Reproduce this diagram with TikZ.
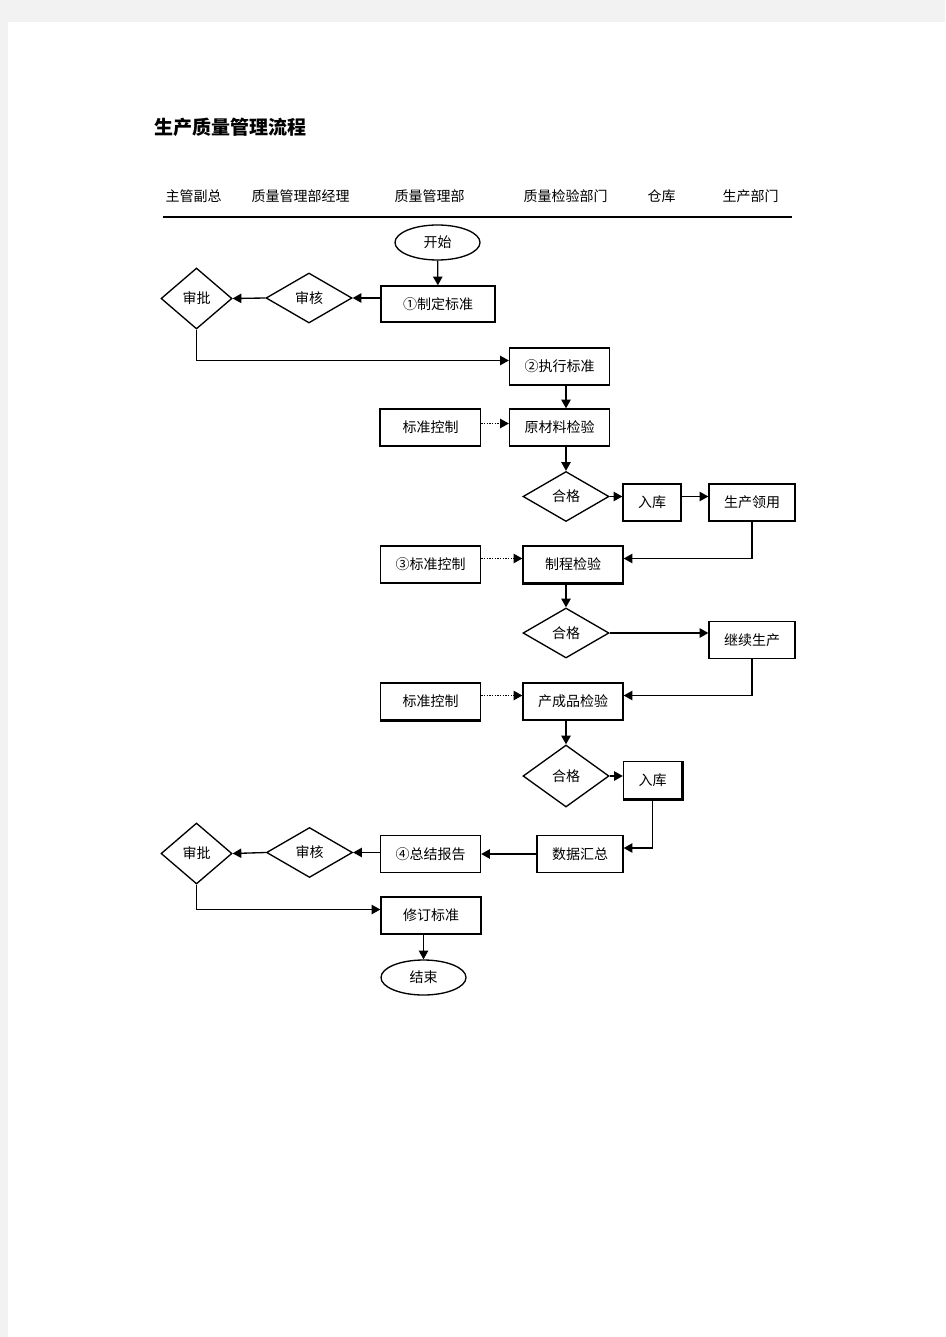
\documentclass[tikz,border=0pt]{standalone}
\usepackage{fontspec}
\setmainfont{Noto Sans CJK SC}
\usepackage{tikz}
\usetikzlibrary{arrows.meta}
\usetikzlibrary{shapes}
\definecolor{pagegray}{RGB}{242,242,242}
\tikzset{box/.style={draw,line width=1pt,minimum width=#1,minimum height=27.75pt,inner sep=0pt},
 box/.default=75pt,
 choice/.style={draw,line width=1pt,diamond,aspect=1.7,inner sep=0pt,minimum width=64.5pt,minimum height=37.5pt},
 terminal/.style={draw,line width=1pt,ellipse,minimum width=63.75pt,minimum height=26.25pt,inner sep=0pt},
 flow/.style={line width=1pt,-{Triangle[length=6.5pt,width=7pt]}},
 control/.style={flow,densely dotted},
 lane/.style={anchor=west,font=\fontsize{10.5}{12}\selectfont},
 every node/.style={font=\fontsize{10.5}{12}\selectfont},
 }

\begin{document}
\begin{tikzpicture}[x=0.75pt,y=-0.75pt]
        \useasboundingbox (0,0) rectangle (945,1337);
        \fill[pagegray] (0,0) rectangle (945,1337);
        \fill[white] (8,22) rectangle (945,1337);
        % title and lanes
        \node[anchor=west,font=\fontsize{14.25}{16}\selectfont\bfseries] (title) at (150,127) {生产质量管理流程};
        \node[lane] (lane1) at (161,196) {主管副总};
        \node[lane] (lane2) at (247,196) {质量管理部经理};
        \node[lane] (lane3) at (390,196) {质量管理部};
        \node[lane] (lane4) at (519,196) {质量检验部门};
        \node[lane] (lane5) at (643,196) {仓库};
        \node[lane] (lane6) at (718,196) {生产部门};
        \draw[line width=1pt] (163,217) -- (792,217);
        % standard
        \node[terminal] (start) at (437.5,242.5) {开始};
        \node[box=85.5pt,minimum height=27pt] (std) at (438,304) {①制定标准};
        \node[choice] (check1) at (309,298) {审核};
        \node[choice,minimum width=53.25pt,minimum height=45.75pt] (approve1) at (196.5,298.5) {审批};
        \node[box] (exec) at (559.5,366.5) {②执行标准};
        % raw material
        \node[box] (ctrl1) at (430.5,427.5) {标准控制};
        \node[box] (raw) at (559.5,427.5) {原材料检验};
        \node[choice] (pass1) at (566,496.5) {合格};
        \node[box=43.5pt] (store1) at (652,502.5) {入库};
        \node[box=64.5pt] (use) at (752,502.5) {生产领用};
        % process
        \node[box] (ctrl2) at (430.5,564.5) {③标准控制};
        \node[box] (proc) at (573,564.5) {制程检验};
        \node[choice] (pass2) at (566,633) {合格};
        \node[box=64.5pt] (cont) at (752,640) {继续生产};
        % product
        \node[box] (ctrl3) at (430.5,701.5) {标准控制};
        \node[box] (final) at (573,701.5) {产成品检验};
        \node[choice,minimum height=46.5pt] (pass3) at (566,776) {合格};
        \node[box=43.5pt] (store2) at (652.5,780) {入库};
        % report
        \node[box=64.5pt] (data) at (580,854) {数据汇总};
        \node[box] (report) at (430.5,854) {④总结报告};
        \node[choice] (check2) at (309.5,852.5) {审核};
        \node[choice,minimum width=53.25pt,minimum height=45.75pt] (approve2) at (196.5,853.5) {审批};
        \node[box] (revise) at (431,915.5) {修订标准};
        \node[terminal] (end) at (423.5,977.5) {结束};
        % thick edges
        \draw[line width=2pt] (ctrl1.south west) -- (ctrl1.north west);
        \draw[line width=2pt] (proc.south west) -- (proc.south east);
        \draw[line width=2pt] (ctrl3.south west) -- (ctrl3.south east);
        \draw[line width=2pt] (store2.south west) -- (store2.south east) -- (store2.north east);
        % connectors
        \draw[flow] (start) -- (std);
        \draw[flow] (std.west |- check1) -- (check1.east);
        \draw[flow] (check1.west) -- (approve1.east);
        \draw[flow] (approve1.south) |- ([yshift=4.5pt]exec.west);
        \draw[flow] (exec.south -| pass1) -- (raw.north -| pass1);
        \draw[control] ([yshift=3pt]ctrl1.east) -- ([yshift=3pt]raw.west);
        \draw[flow] (raw.south -| pass1) -- (pass1.north);
        \draw[flow] (pass1.east) -- (pass1.east -| store1.west);
        \draw[flow] (store1.east |- pass1) -- (use.west |- pass1);
        \draw[flow] (use.south) |- ([yshift=4.5pt]proc.east);
        \draw[control] ([yshift=4.5pt]ctrl2.east) -- ([yshift=4.5pt]proc.west);
        \draw[flow] (proc.south -| pass2) -- (pass2.north);
        \draw[flow] (pass2.east) -- (pass2.east -| cont.west);
        \draw[flow] (cont.south) |- ([yshift=4.5pt]final.east);
        \draw[control] ([yshift=4.5pt]ctrl3.east) -- ([yshift=4.5pt]final.west);
        \draw[flow] (final.south -| pass3) -- (pass3.north);
        \draw[flow] (pass3.east) -- (pass3.east -| store2.west);
        \draw[flow] (store2.south) |- ([yshift=4.5pt]data.east);
        \draw[flow] (data.west) -- (report.east);
        \draw[flow] (report.west |- check2) -- (check2.east);
        \draw[flow] (check2.west) -- (approve2.east);
        \draw[flow] (approve2.south) |- ([yshift=4.5pt]revise.west);
        \draw[flow] (revise.south -| end) -- (end.north);
\end{tikzpicture}
\end{document}
